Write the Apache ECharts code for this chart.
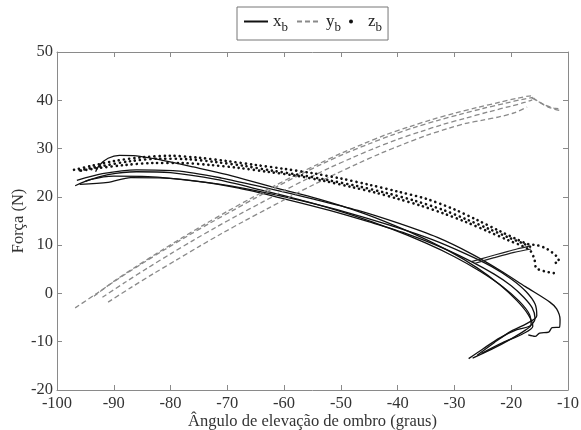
<!DOCTYPE html>
<html><head><meta charset="utf-8">
<script src="https://cdn.jsdelivr.net/npm/echarts@6/dist/echarts.min.js"></script>
<style>html,body{margin:0;padding:0;background:#fff}#c{width:581px;height:430px}</style>
</head><body><div id="c"></div>
<script>
// x_b traces (solid black) [angle, force]
const xb1 = [[-27.5,-13.5],[-25,-11.5],[-22,-9.2],[-19,-7.5],[-16.8,-6.8],[-15.8,-5.2],[-16.3,-3],[-17.8,-0.8],[-20,1.6],[-23,4],[-27,6.6],[-32,9.4],[-38,12.2],[-45,14.8],[-52,17.2],[-60,19.6],[-68,21.8],[-76,23.3],[-84,24.2],[-90,24.3],[-94,23.6],[-96.8,22.3]];
const xb2 = [[-95,23.2],[-91,24.6],[-86,25.2],[-80,25],[-72,23.6],[-64,21.4],[-56,19],[-48,16.2],[-41,13.3],[-35,10.4],[-30,7.6],[-25.5,4.6],[-21.5,1.4],[-18.6,-1.6],[-16.8,-4.3],[-16.5,-6.5],[-17.5,-7.6],[-20,-9.4],[-23.5,-11.6],[-26.8,-13.4]];
const xb3 = [[-26,-12.8],[-23,-10.2],[-20,-7.8],[-17.2,-6.2],[-15.5,-4.6],[-15.8,-2.2],[-17.4,0.4],[-20,3],[-23.5,5.6],[-28,8.2],[-34,11.2],[-41,14],[-49,16.8],[-57,19.2],[-65,21.3],[-73,22.9],[-81,23.9],[-87,24],[-91,23],[-96,22.6]];
const xb4 = [[-93.2,25.2],[-92.5,26.6],[-91,28],[-89,28.6],[-86,28.5],[-82,27.7],[-76,26.2],[-70,24.6],[-62,22],[-54,19.6],[-46,16.6],[-38,12.8],[-31,8.8],[-26,5.3],[-22,1.8],[-19,-1.5],[-17,-4.4],[-16.2,-6.8],[-18,-8.4],[-21.5,-10.2],[-25.2,-12.4]];
const xb5 = [[-96.5,23.4],[-92,24.8],[-86,25.6],[-79,25.4],[-71,23.9],[-63,21.8],[-55,19.6],[-47,17.2],[-40,14.6],[-33,11.6],[-27,8.2],[-22,4.8],[-17.5,1.4],[-13.2,-1.8],[-12,-3.2],[-11.4,-5.4],[-11.5,-7],[-12.8,-7.1],[-13.4,-8],[-15,-8.2],[-15.8,-8.9],[-17,-8.6]];

// y_b traces (grey dashed)
const yb1 = [[-96.8,-3],[-93,0],[-89,3.2],[-85,6.2],[-81,9.1],[-77,11.9],[-73,14.6],[-69,17.2],[-65,19.8],[-61,22.3],[-57,24.7],[-53,27],[-49,29.1],[-45,31],[-41,32.8],[-37,34.4],[-33,35.8],[-29,37.1],[-25,38.3],[-21,39.4],[-18,40.2],[-16.2,40.6]];
const yb2 = [[-93.5,-0.6],[-90,2.5],[-86,5.6],[-82,8.6],[-78,11.5],[-74,14.3],[-70,17],[-66,19.6],[-62,22.1],[-58,24.5],[-54,26.8],[-50,29],[-46,31],[-42,32.9],[-38,34.5],[-34,36],[-30,37.3],[-26,38.5],[-22,39.6],[-19,40.4],[-16.5,40.9],[-15.8,40.2],[-13.5,38.6],[-11.2,37.8]];
const yb3 = [[-92,-0.8],[-88,2.3],[-84,5.3],[-80,8.2],[-76,11],[-72,13.7],[-68,16.3],[-64,18.8],[-60,21.3],[-56,23.7],[-52,26],[-48,28.1],[-44,30.1],[-40,31.9],[-36,33.5],[-32,35],[-28,36.3],[-24,37.6],[-20,38.8],[-17.5,39.6],[-16.3,40.1]];
const yb4 = [[-91,-1.8],[-87,1.2],[-83,4.1],[-79,6.9],[-75,9.7],[-71,12.4],[-67,15],[-63,17.5],[-59,20],[-55,22.4],[-51,24.7],[-47,26.9],[-43,29],[-39,30.9],[-35,32.7],[-31,34.2],[-28,35.2],[-25,35.9],[-22,36.6],[-19.5,37.4],[-17.2,38.6]];
const yb5 = [[-16.4,40.5],[-14,39],[-12.5,38.4],[-11.3,38.2]];

// z_b traces (black dots)
const zb1 = [[-97,25.6],[-94,26.4],[-90,27.4],[-85,28.2],[-80,28.5],[-75,28.1],[-70,27.4],[-65,26.6],[-60,25.8],[-55,24.9],[-50,23.8],[-45,22.5],[-40,21.1],[-35,19.6],[-30,17.4],[-26,15.2],[-22,12.9],[-19,11.2],[-17,10.2],[-15.5,10],[-14,9.4],[-12.8,8.5],[-11.8,7.4],[-11.6,6.6],[-12.3,6.3]];
const zb2 = [[-12.5,4.2],[-14.2,4.6],[-15.6,5.3],[-15.9,7],[-16.6,8.8],[-18,9.8],[-20.5,11],[-24,12.8],[-28,14.8],[-32,16.6],[-36,18.2],[-40,19.6],[-44,20.9],[-48,22],[-53,23.3],[-58,24.4],[-63,25.2],[-68,26],[-73,26.6],[-78,27],[-83,27],[-88,26.6],[-93,25.9],[-96.5,25.3]];
const zb3 = [[-96,25.5],[-92,26.4],[-87,27.4],[-82,27.9],[-77,27.8],[-72,27.2],[-67,26.4],[-62,25.4],[-57,24.5],[-52,23.4],[-47,22.2],[-42,20.8],[-37,19.2],[-32,17.3],[-28,15.4],[-24,13.4],[-20.5,11.6],[-18,10.4],[-16.5,9.6]];
const zb4 = [[-16.8,9.8],[-19,9.2],[-21.5,8.4],[-24,7.6],[-27,6.6]];
const zb5 = [[-16.5,9.2],[-19.5,8.5],[-23,7.4],[-26.5,6.2]];

const xTraces = [xb1, xb2, xb3, xb4, xb5];
const yTraces = [yb1, yb2, yb3, yb4, yb5];
const zTraces = [zb1, zb2, zb3];
const zDense = [zb4, zb5];

const FONT = '"Liberation Serif", "DejaVu Serif", serif';
const series = [];
xTraces.forEach(d => series.push({type:'line', name:'x_b', data:d, symbol:'none', smooth:0.3, silent:true,
  lineStyle:{color:'#111', width:1.3}, itemStyle:{color:'#111'}}));
yTraces.forEach(d => series.push({type:'line', name:'y_b', data:d, symbol:'none', smooth:0.3, silent:true,
  lineStyle:{color:'#8a8a8a', width:1.3, type:[5,3]}, itemStyle:{color:'#8a8a8a'}}));
zTraces.forEach(d => series.push({type:'line', name:'z_b', data:d, symbol:'none', smooth:0.3, silent:true,
  lineStyle:{color:'#111', width:2.6, type:[0.1,5], cap:'round'}, itemStyle:{color:'#111'}}));
zDense.forEach(d => series.push({type:'line', name:'z_b', data:d, symbol:'none', smooth:0.3, silent:true,
  lineStyle:{color:'#222', width:1.2}, itemStyle:{color:'#111'}}));

const axisLine = {show:true, onZero:false, lineStyle:{color:'#8a8a8a', width:1}};
const tick = {show:true, inside:true, length:5, lineStyle:{color:'#8a8a8a'}};
const label = {fontFamily:FONT, fontSize:16.5, color:'#333'};
const chart = echarts.init(document.getElementById('c'), null, {renderer:'canvas'});
chart.setOption({
  animation:false,
  backgroundColor:'#fff',
  grid:{left:57, right:13, top:52, bottom:40, containLabel:false, outerBoundsMode:'none'},
  legend:{
    left:237, top:7, padding:[6,6,6,6], itemGap:8, itemWidth:24, itemHeight:4,
    borderColor:'#777', borderWidth:1,
    selectedMode:false,
    itemStyle:{color:'transparent', borderWidth:0},
    data:[{name:'x_b'},{name:'y_b'},{name:'z_b', icon:'circle', itemStyle:{color:'#111'}}],
    formatter: n => '{m|' + n.charAt(0) + '}{s|' + n.charAt(2) + '}',
    textStyle:{fontFamily:FONT, color:'#222', rich:{
      m:{fontSize:17, fontFamily:FONT, color:'#222'},
      s:{fontSize:13, fontFamily:FONT, color:'#222', padding:[12,0,0,0]}
    }}
  },
  xAxis:[{type:'value', min:-100, max:-10, interval:10, position:'bottom',
    name:'Ângulo de elevação de ombro (graus)', nameLocation:'middle', nameGap:23, nameMoveOverlap:false,
    nameTextStyle:{fontFamily:FONT, fontSize:16.5, color:'#333'},
    axisLine, axisTick:tick,
    axisLabel:Object.assign({margin:5}, label),
    splitLine:{show:false}},
   {type:'value', min:-100, max:-10, interval:10, position:'top',
    axisLine, axisTick:tick, axisLabel:{show:false}, splitLine:{show:false}}],
  yAxis:[{type:'value', min:-20, max:50, interval:10, position:'left',
    name:'Força (N)', nameLocation:'middle', nameGap:30, nameMoveOverlap:false,
    nameTextStyle:{fontFamily:FONT, fontSize:16.5, color:'#333'},
    axisLine, axisTick:tick,
    axisLabel:Object.assign({margin:4}, label),
    splitLine:{show:false}},
   {type:'value', min:-20, max:50, interval:10, position:'right',
    axisLine, axisTick:tick, axisLabel:{show:false}, splitLine:{show:false}}],
  series
});
</script></body></html>
